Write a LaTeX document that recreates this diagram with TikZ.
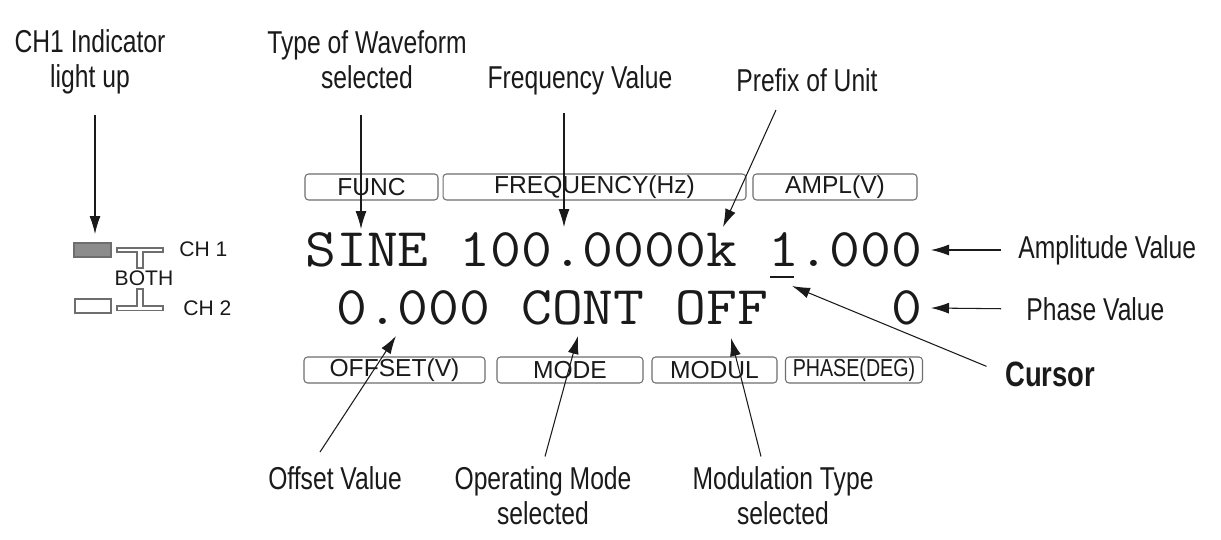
\documentclass[tikz,border=0pt]{standalone}
\usepackage{fontspec}
\usetikzlibrary{arrows.meta,calc}
\newfontfamily\labfont[FakeStretch=0.78]{Liberation Sans}
\newfontfamily\panelfont{Liberation Sans}
\newfontfamily\narrowfont[FakeStretch=0.8]{Liberation Sans}
\newfontfamily\lcdfont[FakeStretch=1.1]{Latin Modern Mono}
\definecolor{ink}{HTML}{1A1A1A}
\definecolor{rim}{HTML}{6E6E6E}
\definecolor{lamp}{HTML}{8C8C8C}

\tikzset{
  callout/.style={font={\fontsize{18}{20}\labfont}, text=ink, align=center, inner sep=0pt},
  lcdbox/.style={draw=rim, rounded corners=2pt, line width=0.6pt, minimum height=0.52cm,
    inner sep=0pt, font={\fontsize{14}{16}\panelfont}, text=ink},
  lcd/.style={font={\fontsize{31}{36}\lcdfont}, text=ink, inner sep=0pt, anchor=base west},
  pointer/.style={->, >={Latex[length=3.6mm,width=2.2mm]}, line width=0.6pt, draw=ink},
  chtag/.style={font={\fontsize{12}{14}\panelfont}, text=ink, inner sep=0pt}
}

\begin{document}
\begin{tikzpicture}[x=0.02cm, y=-0.02cm]
	\useasboundingbox[fill=white] (0,0) rectangle (1221,540);

	% callouts round the display
	\node[callout] (ch1lab) at (90,62) {CH1 Indicator\\light up};
	\node[callout] (wavelab) at (367,60) {Type of Waveform\\selected};
	\node[callout] (freqlab) at (580,80) {Frequency Value};
	\node[callout] (prefixlab) at (807,80) {Prefix of Unit};
	\node[callout, anchor=west] (amplab) at (1018,250) {Amplitude Value};
	\node[callout, anchor=west] (phaselab) at (1026,309) {Phase Value};
	\node[callout, anchor=west, font={\fontsize{20}{24}\labfont\bfseries}] (cursorlab) at (1005,374) {Cursor};
	\node[callout] (offsetlab) at (335,478) {Offset Value};
	\node[callout] (modelab) at (543,496) {Operating Mode\\selected};
	\node[callout] (modullab) at (783,496) {Modulation Type\\selected};

	% key caps
	\node[lcdbox, minimum width=2.66cm] (funcbox) at (371.5,187) {FUNC};
	\node[lcdbox, minimum width=6.06cm] (freqbox) at (594.5,187) {FREQUENCY(Hz)};
	\node[lcdbox, minimum width=3.28cm] (amplbox) at (835,187) {AMPL(V)};
	\node[lcdbox, minimum width=3.62cm] (offsetbox) at (394.5,370) {OFFSET(V)};
	\node[lcdbox, minimum width=2.92cm] (modebox) at (570,370) {MODE};
	\node[lcdbox, minimum width=2.50cm] (modulbox) at (714.5,370) {MODUL};
	\node[lcdbox, minimum width=2.74cm, font={\fontsize{14}{16}\narrowfont}] (phasebox) at (854,370) {PHASE(DEG)};

	% display rows
	\node[lcd] (row1) at (305,267) {SINE~100.0000k~1.000};
	\node[lcd] (row2) at (305,325) {~0.000~CONT~OFF};
	\node[lcd, anchor=base east] (phaseval) at (row1.base east |- row2.base) {0};
	\draw[ink, line width=1.6pt] (770,277) -- (794,277);

	% channel lamps
	\draw[rim, line width=0.6pt, fill=lamp] (74,243) rectangle (111,257);
	\draw[rim, line width=0.6pt, fill=white] (75,299) rectangle (111,313);
	\draw[rim, line width=0.6pt] (117,248) -- (163,248) -- (163,252) -- (143,252) -- (143,268)
		-- (137,268) -- (137,252) -- (117,252) -- cycle;
	\draw[rim, line width=0.6pt] (117,310.5) -- (163,310.5) -- (163,306) -- (143,306) -- (143,289)
		-- (137,289) -- (137,306) -- (117,306) -- cycle;
	\node[chtag] (bothlab) at (144,278) {BOTH};
	\node[chtag, anchor=west] (ch1tag) at (179,249) {CH 1};
	\node[chtag, anchor=west] (ch2tag) at (183,308) {CH 2};

	% arrow tips
	\coordinate (lampTip) at (95,234);
	\coordinate (waveTip) at (361,229);
	\coordinate (freqTip) at (564,227);
	\coordinate (prefixTip) at (723,227);
	\coordinate (ampTip) at (931,250);
	\coordinate (phaseTip) at (931,308);
	\coordinate (cursorTip) at (792,286);
	\coordinate (offsetTip) at (396,336);
	\coordinate (modeTip) at (578,336);
	\coordinate (modulTip) at (731,338);

	\draw[pointer, shorten <=0.4cm] (ch1lab.south -| lampTip) -- (lampTip);
	\draw[pointer, shorten <=0.5cm] (wavelab.south -| waveTip) -- (waveTip);
	\draw[pointer, shorten <=0.36cm] (freqlab.south -| freqTip) -- (freqTip);
	\draw[pointer] ($(prefixlab.south)+(-31,18)$) -- (prefixTip);
	\draw[pointer, shorten <=0.34cm] (amplab.west) -- (ampTip);
	\draw[pointer, shorten <=0.5cm] (phaselab.west) -- (phaseTip);
	\draw[pointer, shorten <=0.4cm] (cursorlab.west) -- (cursorTip);
	\draw[pointer] ($(offsetlab.north)+(-15,-14)$) -- (offsetTip);
	\draw[pointer] ($(modelab.north)+(2,-10)$) -- (modeTip);
	\draw[pointer] ($(modullab.north)+(-22,-10)$) -- (modulTip);

\end{tikzpicture}
\end{document}
